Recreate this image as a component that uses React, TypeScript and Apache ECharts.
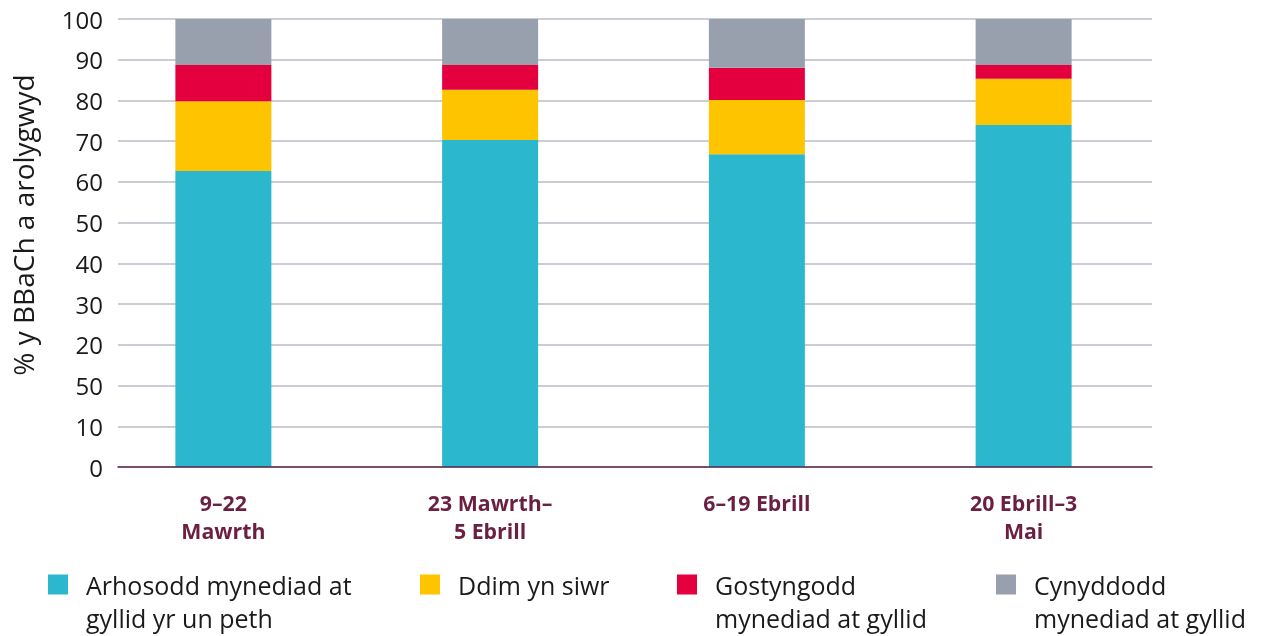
import React, { useEffect, useRef } from "react";
import * as echarts from "echarts";

const categories = ["9–22\nMawrth", "23 Mawrth–\n5 Ebrill", "6–19 Ebrill", "20 Ebrill–3\nMai"];
const yTickLabels = ["0", "10", "50", "20", "30", "40", "50", "60", "70", "80", "90", "100"];
const seriesNames = [
  "Arhosodd mynediad at gyllid yr un peth",
  "Ddim yn siwr",
  "Gostyngodd mynediad at gyllid",
  "Cynyddodd mynediad at gyllid",
];
const legendLabels = [
  "Arhosodd mynediad at\ngyllid yr un peth",
  "Ddim yn siwr",
  "Gostyngodd\nmynediad at gyllid",
  "Cynyddodd\nmynediad at gyllid",
];
// values in the chart's own axis units (the axis has 11 steps)
const stayedSame = [72.7, 80.3, 76.8, 84.0];
const notSure = [17.1, 12.3, 13.3, 11.3];
const decreased = [8.9, 6.1, 7.9, 3.4];
const increased = [11.3, 11.3, 12.0, 11.3];
const colors = ["#2bb8cf", "#fec400", "#e4003f", "#98a0ad"];

const FONT = "'Open Sans', 'Noto Sans', sans-serif";

export default function App() {
  const ref = useRef<HTMLDivElement>(null);
  useEffect(() => {
    if (!ref.current) return;
    const chart = echarts.init(ref.current, null, { renderer: "svg" });
    const dataSets = [stayedSame, notSure, decreased, increased];
    const legendLeft = [48, 420, 677, 996];
    const legends = seriesNames.map((n, i) => {
      const twoLine = legendLabels[i].includes("\n");
      return {
        data: [n],
        left: legendLeft[i],
        top: twoLine ? 535 : 568,
        padding: 0,
        orient: "horizontal",
        icon: "rect",
        itemWidth: 20,
        itemHeight: 20,
        selectedMode: false,
        formatter: () => (twoLine ? "\n" + legendLabels[i] : legendLabels[i]),
        textStyle: {
          fontFamily: FONT,
          fontSize: 25,
          lineHeight: 33,
          color: "#1a1a1a",
          padding: [0, 0, 0, 13],
        },
      };
    });
    chart.setOption({
      animation: false,
      textStyle: { fontFamily: FONT },
      grid: [
        { left: 118, right: 115, top: 19, height: 448 },
        { left: 90, right: 110, top: 19, height: 448 },
      ],
      xAxis: [
        {
          type: "category",
          gridIndex: 0,
          data: categories,
          z: 5,
          axisLine: { show: true, lineStyle: { color: "#5e2748", width: 1.5 } },
          axisTick: { show: false },
          axisLabel: { show: false },
          splitLine: { show: false },
        },
        {
          type: "category",
          gridIndex: 1,
          data: categories,
          axisLine: { show: false },
          axisTick: { show: false },
          axisLabel: {
            margin: 21,
            fontFamily: FONT,
            fontSize: 21.3,
            fontWeight: "bold",
            lineHeight: 28,
            color: "#6b1f43",
          },
        },
      ],
      yAxis: [
        {
          type: "value",
          gridIndex: 0,
          min: 0,
          max: 110,
          interval: 10,
          axisLine: { show: false },
          axisTick: { show: false },
          axisLabel: {
            margin: 15,
            fontFamily: FONT,
            fontSize: 24,
            color: "#1a1a1a",
            formatter: (v: number) => yTickLabels[Math.round(v / 10)] ?? "",
          },
          splitLine: { show: true, lineStyle: { color: "#b9bdc7", width: 1.5 } },
        },
        {
          type: "value",
          gridIndex: 1,
          min: 0,
          max: 110,
          interval: 10,
          show: false,
          splitLine: { show: false },
        },
      ],
      legend: legends,
      graphic: [
        {
          type: "text",
          x: 23,
          y: 225,
          rotation: Math.PI / 2,
          style: {
            text: "% y BBaCh a arolygwyd",
            fontFamily: FONT,
            fontSize: 28,
            fill: "#1a1a1a",
            textAlign: "center",
            textVerticalAlign: "middle",
          },
        },
      ],
      series: seriesNames.map((n, i) => ({
        name: n,
        type: "bar",
        stack: "total",
        xAxisIndex: 1,
        yAxisIndex: 1,
        barWidth: 96,
        itemStyle: { color: colors[i] },
        emphasis: { disabled: true },
        data: dataSets[i],
      })),
    });
    return () => chart.dispose();
  }, []);
  return (
    <div
      ref={ref}
      style={{ position: "fixed", left: 0, top: 0, width: 1267, height: 636 }}
    />
  );
}
